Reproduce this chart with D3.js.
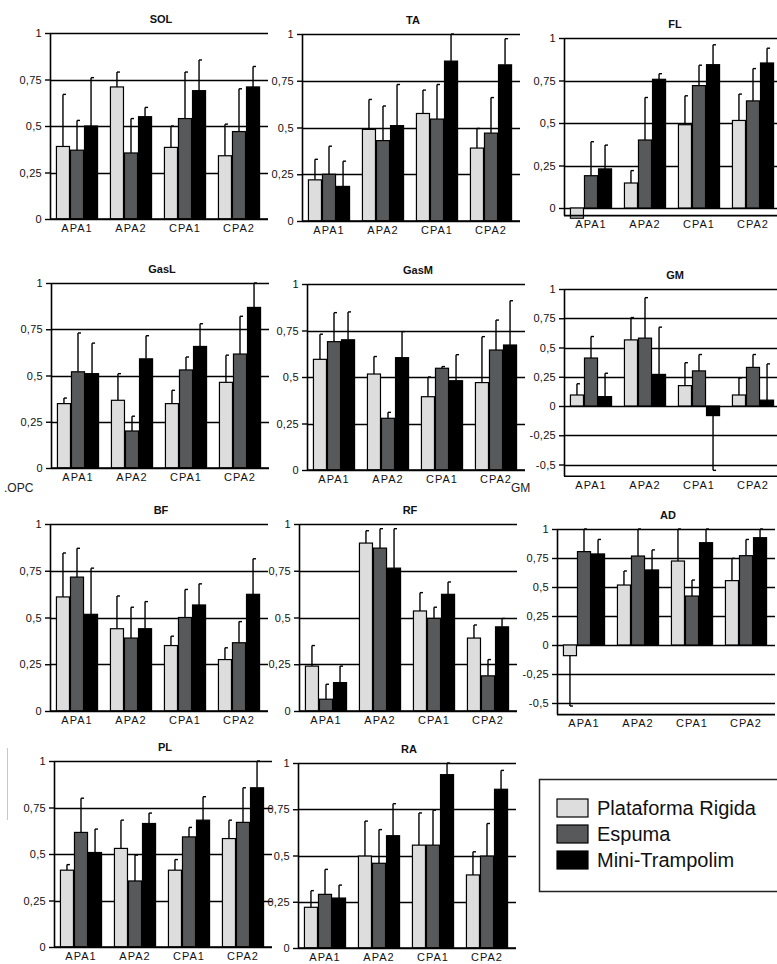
<!DOCTYPE html>
<html><head><meta charset="utf-8">
<script src="https://cdn.jsdelivr.net/npm/d3@7"></script>
<style>body{margin:0;background:#fff}svg{display:block}</style></head>
<body><svg id="c" width="777" height="964"></svg>
<script>
// ---------- DATA ----------
const categories = ["APA1", "APA2", "CPA1", "CPA2"];
const seriesNames = ["Plataforma Rigida", "Espuma", "Mini-Trampolim"];
const ticksPos = [0, 0.25, 0.5, 0.75, 1];
const ticksNeg = [-0.5, -0.25, 0, 0.25, 0.5, 0.75, 1];
const panelTitles = ["SOL", "TA", "FL", "GasL", "GasM", "GM", "BF", "RF", "AD", "PL", "RA"];
const panelMins = [0, 0, -0.045, 0, 0, -0.6, 0, 0, -0.6, 0, 0];

// mean[category][series], sd[category][series]
const SOL_mean = [[0.39,0.37,0.50],[0.71,0.355,0.55],[0.385,0.54,0.69],[0.34,0.47,0.71]];
const SOL_sd   = [[0.28,0.16,0.26],[0.08,0.185,0.05],[0.115,0.25,0.165],[0.17,0.23,0.11]];
const TA_mean  = [[0.22,0.25,0.185],[0.49,0.43,0.51],[0.575,0.545,0.855],[0.39,0.47,0.835]];
const TA_sd    = [[0.11,0.15,0.135],[0.16,0.185,0.22],[0.125,0.185,0.145],[0.105,0.19,0.14]];
const FL_mean  = [[-0.06,0.19,0.23],[0.147,0.40,0.757],[0.49,0.72,0.843],[0.515,0.63,0.853]];
const FL_sd    = [[0.02,0.20,0.14],[0.073,0.25,0.033],[0.17,0.12,0.117],[0.155,0.19,0.087]];
const GasL_mean= [[0.348,0.52,0.51],[0.366,0.20,0.59],[0.348,0.53,0.657],[0.463,0.616,0.868]];
const GasL_sd  = [[0.03,0.21,0.165],[0.144,0.08,0.125],[0.072,0.07,0.123],[0.147,0.204,0.132]];
const GasM_mean= [[0.595,0.69,0.70],[0.516,0.278,0.604],[0.394,0.547,0.48],[0.47,0.645,0.672]];
const GasM_sd  = [[0.135,0.156,0.15],[0.094,0.032,0.14],[0.106,0.009,0.14],[0.247,0.161,0.238]];
const GM_mean  = [[0.094,0.41,0.08],[0.565,0.58,0.27],[0.174,0.30,-0.082],[0.094,0.33,0.05]];
const GM_sd    = [[0.096,0.184,0.20],[0.191,0.346,0.404],[0.196,0.14,0.468],[0.146,0.11,0.31]];
const BF_mean  = [[0.61,0.716,0.517],[0.44,0.39,0.44],[0.35,0.50,0.567],[0.275,0.365,0.624]];
const BF_sd    = [[0.235,0.154,0.247],[0.175,0.165,0.145],[0.05,0.15,0.113],[0.063,0.113,0.19]];
const RF_mean  = [[0.24,0.063,0.152],[0.898,0.871,0.764],[0.535,0.495,0.624],[0.39,0.188,0.45]];
const RF_sd    = [[0.11,0.08,0.088],[0.066,0.104,0.211],[0.098,0.06,0.066],[0.07,0.087,0.045]];
const AD_mean  = [[-0.092,0.805,0.785],[0.517,0.767,0.647],[0.724,0.422,0.882],[0.555,0.77,0.925]];
const AD_sd    = [[0.434,0.25,0.125],[0.121,0.25,0.173],[0.3,0.138,0.2],[0.192,0.14,0.15]];
const PL_mean  = [[0.413,0.616,0.508],[0.53,0.355,0.664],[0.413,0.592,0.682],[0.583,0.67,0.856]];
const PL_sd    = [[0.03,0.184,0.126],[0.152,0.139,0.056],[0.057,0.051,0.126],[0.099,0.186,0.15]];
const RA_mean  = [[0.22,0.29,0.27],[0.497,0.458,0.607],[0.556,0.556,0.937],[0.395,0.497,0.858]];
const RA_sd    = [[0.09,0.135,0.07],[0.189,0.182,0.173],[0.174,0.189,0.1],[0.125,0.176,0.102]];

const panelMeans = [SOL_mean, TA_mean, FL_mean, GasL_mean, GasM_mean, GM_mean, BF_mean, RF_mean, AD_mean, PL_mean, RA_mean];
const panelSds   = [SOL_sd, TA_sd, FL_sd, GasL_sd, GasM_sd, GM_sd, BF_sd, RF_sd, AD_sd, PL_sd, RA_sd];

// ---------- LAYOUT (pixels) ----------
// x: y-axis position, yTop: pixel of value 1, yZero: pixel of value 0
const layout = [
  {x:50,  yTop:33,  yZero:219},
  {x:302, yTop:34,  yZero:221},
  {x:564, yTop:38,  yZero:208},
  {x:51,  yTop:283, yZero:468},
  {x:307, yTop:284, yZero:470},
  {x:564, yTop:289, yZero:406},
  {x:50,  yTop:524, yZero:711},
  {x:299, yTop:524, yZero:711},
  {x:557, yTop:529, yZero:645},
  {x:54,  yTop:761, yZero:947},
  {x:298, yTop:763, yZero:948}
];
const plotW = 216;
const colors = ["#dcdddc", "#58595b", "#000000"];
const fmt = v => String(v).replace(".", ",");

const svg = d3.select("#c");

panelTitles.forEach((title, i) => {
  const L = layout[i];
  const min = panelMins[i];
  const means = panelMeans[i], sds = panelSds[i];
  const y = d3.scaleLinear().domain([0, 1]).range([L.yZero, L.yTop]);
  const yBottom = y(min);
  const x = d3.scaleBand().domain(categories).range([L.x, L.x + plotW]).paddingInner(0.22).paddingOuter(0.11);
  const xs = d3.scaleBand().domain(d3.range(seriesNames.length)).range([0, x.bandwidth()]);
  const ticks = min < -0.3 ? ticksNeg : ticksPos;
  const g = svg.append("g");

  // gridlines
  g.selectAll(".grid").data(ticks).join("line")
    .attr("x1", L.x).attr("x2", L.x + plotW + 2)
    .attr("y1", d => Math.round(y(d)) + 0.5).attr("y2", d => Math.round(y(d)) + 0.5)
    .attr("stroke", "#000").attr("stroke-width", 1.4);

  // bars
  categories.forEach((c, ci) => {
    seriesNames.forEach((s, si) => {
      const m = means[ci][si], sd = sds[ci][si];
      const bx = x(c) + xs(si);
      const top = Math.min(y(m), y(0)), h = Math.abs(y(m) - y(0));
      // error bar
      const ex = bx + xs.bandwidth() / 2;
      const eEnd = m >= 0 ? Math.min(m + sd, 1) : Math.max(m - sd, min);
      g.append("line").attr("x1", ex).attr("x2", ex).attr("y1", y(m)).attr("y2", y(eEnd))
        .attr("stroke", "#000").attr("stroke-width", 1.4);
      g.append("line").attr("x1", ex).attr("x2", ex + 3).attr("y1", y(eEnd)).attr("y2", y(eEnd))
        .attr("stroke", "#000").attr("stroke-width", 1.4);
      g.append("rect").attr("x", bx + 0.5).attr("y", top).attr("width", xs.bandwidth() - 1).attr("height", h)
        .attr("fill", colors[si]).attr("stroke", "#000").attr("stroke-width", 1.2);
    });
  });

  // y axis
  const ax = d3.axisLeft(y).tickValues(ticks).tickFormat(fmt).tickSize(5).tickPadding(3).tickSizeOuter(0);
  const ag = g.append("g").attr("transform", `translate(${L.x},0)`).call(ax);
  ag.select(".domain").remove();
  ag.selectAll(".tick line").attr("stroke-width", 1.4);
  ag.selectAll("text").attr("font-family", "Liberation Sans, Arial, sans-serif").attr("font-size", 11)
    .attr("letter-spacing", 0.3).attr("fill", "#111");
  g.append("line").attr("x1", L.x + 0.5).attr("x2", L.x + 0.5).attr("y1", y(1)).attr("y2", yBottom)
    .attr("stroke", "#000").attr("stroke-width", 1.6);
  // bottom axis line
  g.append("line").attr("x1", L.x).attr("x2", L.x + plotW + 2).attr("y1", yBottom).attr("y2", yBottom)
    .attr("stroke", "#000").attr("stroke-width", 1.6);

  // x labels
  const bx = d3.axisBottom(x).tickSize(0).tickPadding(5);
  const bg = g.append("g").attr("transform", `translate(0,${yBottom})`).call(bx);
  bg.select(".domain").remove();
  bg.selectAll("text").attr("font-family", "Liberation Sans, Arial, sans-serif").attr("font-size", 11)
    .attr("letter-spacing", 1).attr("fill", "#111");

  // title
  g.append("text").attr("x", L.x + plotW / 2 + 3).attr("y", L.yTop - 10)
    .attr("text-anchor", "middle").attr("font-family", "Liberation Sans, Arial, sans-serif")
    .attr("font-size", 11).attr("font-weight", "bold").attr("fill", "#111").text(title);
});

// stray texts in source image
svg.append("text").attr("x", 4).attr("y", 492).attr("font-family", "Liberation Sans, Arial, sans-serif")
  .attr("font-size", 12).attr("fill", "#222").text(".OPC");
svg.append("text").attr("x", 511).attr("y", 492).attr("font-family", "Liberation Sans, Arial, sans-serif")
  .attr("font-size", 12).attr("fill", "#222").text("GM");
svg.append("line").attr("x1", 7.5).attr("x2", 7.5).attr("y1", 748).attr("y2", 820)
  .attr("stroke", "#b8c8e8").attr("stroke-width", 1);

// legend
const lg = svg.append("g");
lg.append("rect").attr("x", 539.5).attr("y", 779.5).attr("width", 250).attr("height", 112)
  .attr("fill", "#fff").attr("stroke", "#222").attr("stroke-width", 1.5);
seriesNames.forEach((s, i) => {
  const yy = 799 + i * 26;
  lg.append("rect").attr("x", 557).attr("y", yy).attr("width", 31).attr("height", 18)
    .attr("fill", colors[i]).attr("stroke", "#000").attr("stroke-width", 1.2);
  lg.append("text").attr("x", 597).attr("y", yy + 16).attr("font-family", "Liberation Sans, Arial, sans-serif")
    .attr("font-size", 20).attr("fill", "#111").text(s);
});
</script></body></html>
